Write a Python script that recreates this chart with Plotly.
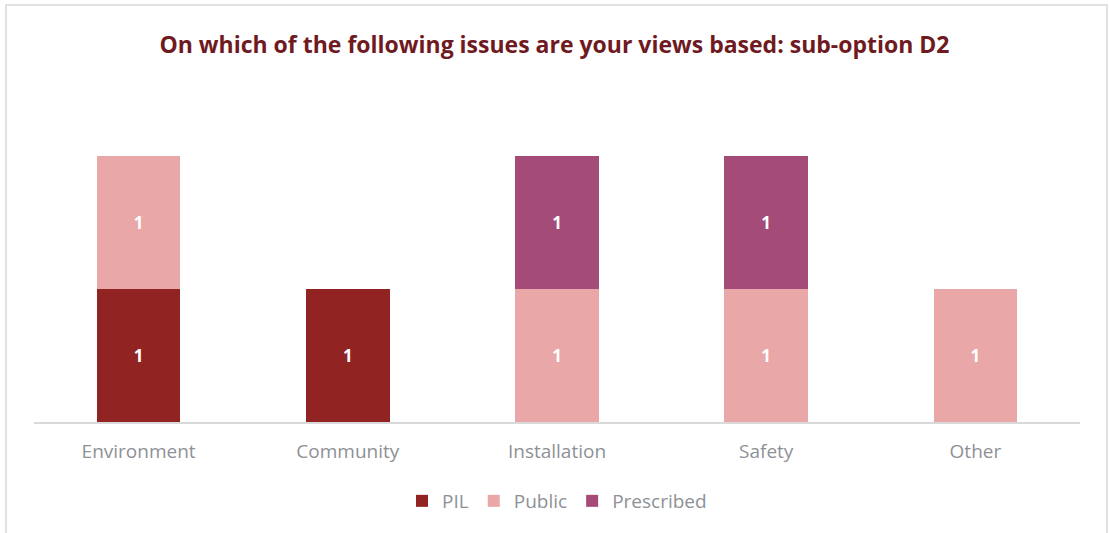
import plotly.graph_objects as go

categories = ["Environment", "Community", "Installation", "Safety", "Other"]
pil = [1, 1, None, None, None]
public = [1, None, 1, 1, 1]
prescribed = [None, None, 1, 1, None]

colors = {"PIL": "#922323", "Public": "#EAA7A7", "Prescribed": "#A54B78"}

fig = go.Figure()
for name, vals in [("PIL", pil), ("Public", public), ("Prescribed", prescribed)]:
    fig.add_trace(go.Bar(
        name=name, x=categories, y=vals,
        marker=dict(color=colors[name], line=dict(width=0)),
        text=[str(v) if v else "" for v in vals],
        textposition="inside", insidetextanchor="middle",
        textfont=dict(family="Open Sans", size=17, color="white", weight="bold"),
        width=0.4,
    ))

W, H = 1109, 533
L, R, T, B = 34, 29, 90, 111
pw, ph = W - L - R, H - T - B

fig.update_layout(
    width=W, height=H,
    barmode="stack",
    margin=dict(l=L, r=R, t=T, b=B),
    paper_bgcolor="white", plot_bgcolor="white",
    title=dict(text="<b>On which of the following issues are your views based: sub-option D2</b>",
               x=0.5, xanchor="center", y=1 - 45 / H, yanchor="middle",
               font=dict(family="Open Sans", size=23, color="#6E1A1F")),
    xaxis=dict(showline=True, linecolor="#D9D9D9", linewidth=1.5, ticks="",
               tickfont=dict(family="Open Sans", size=19, color="#8E9196"),
               ticklabelstandoff=11, showgrid=False),
    yaxis=dict(range=[0, 2.5], showgrid=False, showticklabels=False,
               zeroline=False, showline=False),
    legend=dict(orientation="h", x=0.5, xanchor="center",
                y=(H - B - 501) / ph, yanchor="middle",
                font=dict(family="Open Sans", size=19, color="#8E9196"),
                itemwidth=30, traceorder="normal"),
    showlegend=True,
    shapes=[dict(type="rect", xref="paper", yref="paper",
                 x0=(6 - L) / pw, x1=(1107 - L) / pw,
                 y0=(H - B - 545) / ph, y1=(H - B - 5) / ph,
                 line=dict(color="#D9D9D9", width=1.5), fillcolor="rgba(0,0,0,0)",
                 layer="below")],
)

fig.write_html("out.html")
